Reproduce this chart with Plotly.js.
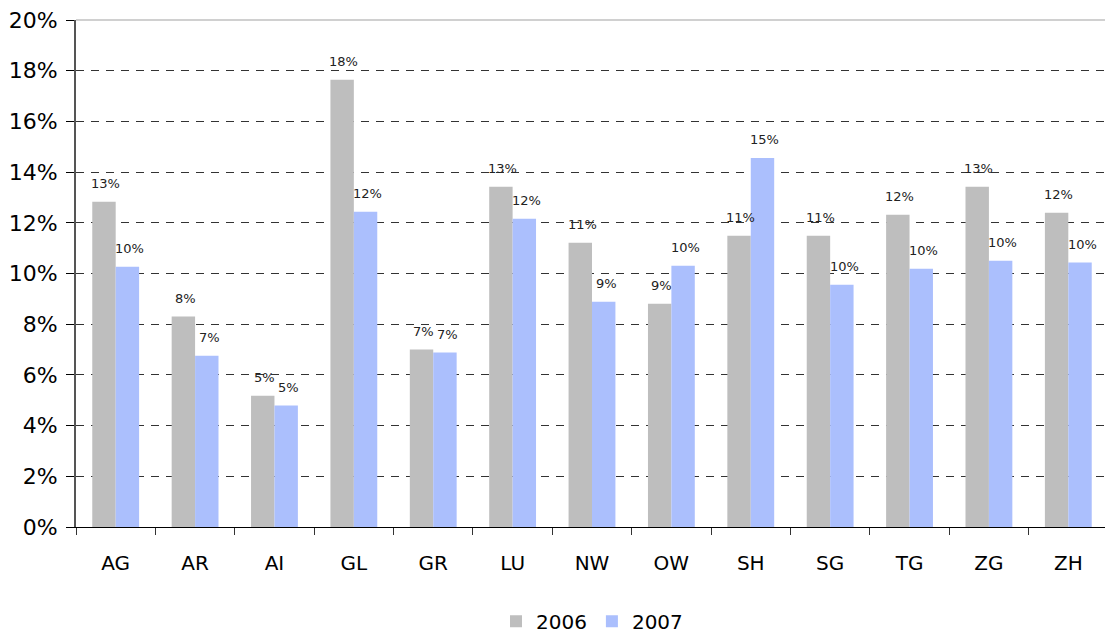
<!DOCTYPE html>
<html>
<head>
<meta charset="utf-8">
<script src="https://cdn.plot.ly/plotly-3.0.1.min.js"></script>
<style>
html,body{margin:0;padding:0;overflow:hidden;background:#fff;}
#chart{width:1108px;height:635px;}
</style>
</head>
<body>
<div id="chart"></div>
<script>
const categories = ["AG","AR","AI","GL","GR","LU","NW","OW","SH","SG","TG","ZG","ZH"];
const values2006 = [12.83, 8.30, 5.18, 17.64, 7.00, 13.42, 11.21, 8.81, 11.49, 11.49, 12.32, 13.42, 12.40];
const values2007 = [10.27, 6.76, 4.79, 12.44, 6.88, 12.16, 8.89, 10.31, 14.56, 9.56, 10.19, 10.50, 10.43];
const labels2006 = ["13%","8%","5%","18%","7%","13%","11%","9%","11%","11%","12%","13%","12%"];
const labels2007 = ["10%","7%","5%","12%","7%","12%","9%","10%","15%","10%","10%","10%","10%"];
const seriesNames = ["2006","2007"];

const labelFont = {family: "DejaVu Sans, Verdana, sans-serif", size: 13, color: "#222"};

const traces = [
  {type: "bar", name: seriesNames[0], x: categories, y: values2006,
   marker: {color: "#bebebe"}, hoverinfo: "x+y"},
  {type: "bar", name: seriesNames[1], x: categories, y: values2007,
   marker: {color: "#abbffd"}, hoverinfo: "x+y"}
];

// value labels above each bar, anchored on the data through the axes
const annotations = [];
categories.forEach((c, i) => {
  annotations.push({x: c, y: values2006[i], xref: "x", yref: "y", text: labels2006[i],
    showarrow: false, xanchor: "center", yanchor: "middle", xshift: -10, yshift: 18,
    font: labelFont});
  annotations.push({x: c, y: values2007[i], xref: "x", yref: "y", text: labels2007[i],
    showarrow: false, xanchor: "center", yanchor: "middle", xshift: 14, yshift: 18,
    font: labelFont});
});

const layout = {
  width: 1108, height: 635,
  margin: {l: 76, r: 0, t: 20, b: 107.5, autoexpand: false},
  paper_bgcolor: "#fff", plot_bgcolor: "#fff",
  barmode: "group", bargap: 0.41, bargroupgap: 0,
  font: {family: "DejaVu Sans, Verdana, sans-serif", color: "#000"},
  xaxis: {
    type: "category",
    showline: true, linecolor: "#000", linewidth: 1,
    ticks: "outside", tickson: "boundaries", ticklen: 7, tickcolor: "#333",
    ticklabelstandoff: 18,
    tickfont: {size: 20, color: "#000"},
    showgrid: false, zeroline: false
  },
  yaxis: {
    range: [0, 20], dtick: 2, ticksuffix: "%",
    showline: true, linecolor: "#555", linewidth: 2,
    ticks: "outside", ticklen: 8, tickcolor: "#000",
    ticklabelstandoff: 4,
    tickfont: {size: 22, color: "#000"},
    showgrid: true, gridcolor: "#333", gridwidth: 1, griddash: "8px,7px",
    zeroline: false
  },
  shapes: [
    {type: "line", xref: "paper", yref: "paper", x0: 0, x1: 1, y0: 1, y1: 1,
     line: {color: "#d0d0d0", width: 2}}
  ],
  annotations: annotations,
  legend: {
    orientation: "h", x: 0.5, xanchor: "center", y: -0.186, yanchor: "middle",
    font: {size: 20, color: "#000"}, itemwidth: 30, traceorder: "normal"
  },
  showlegend: true
};

Plotly.newPlot("chart", traces, layout, {displayModeBar: false, staticPlot: true});
</script>
</body>
</html>
